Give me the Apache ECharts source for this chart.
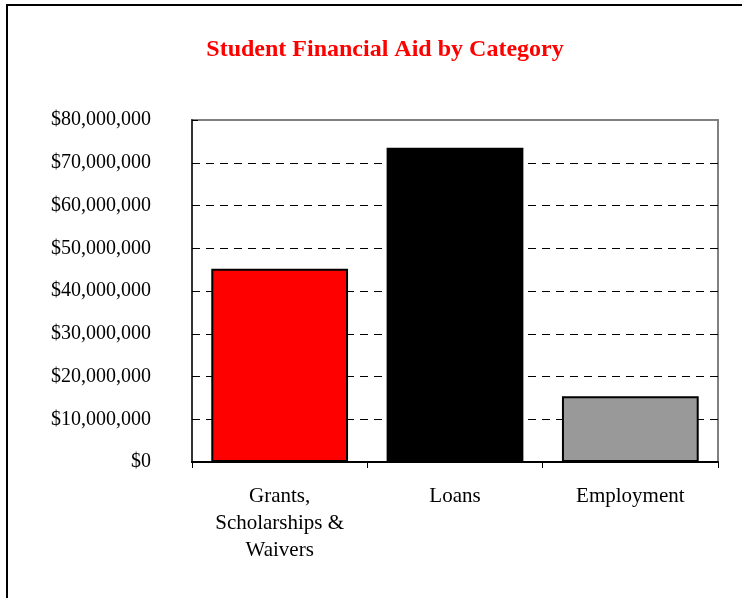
<!DOCTYPE html>
<html>
<head>
<meta charset="utf-8">
<script src="https://cdn.jsdelivr.net/npm/echarts@6/dist/echarts.min.js"></script>
<style>
html,body{margin:0;padding:0;background:#fff;}
#chart{width:742px;height:598px;}
</style>
</head>
<body>
<div id="chart"></div>
<script>
// Aid categories and dollar amounts
var categories = ['Grants,\nScholarships &\nWaivers', 'Loans', 'Employment'];
var amounts = [45200000, 73500000, 15400000];
var barColors = ['#ff0000', '#000000', '#999999'];
var yTicks = [0, 10000000, 20000000, 30000000, 40000000, 50000000, 60000000, 70000000, 80000000];

var serif = '"Liberation Serif", "Times New Roman", serif';

function money(v) {
  return '$' + Math.round(v).toString().replace(/\B(?=(\d{3})+(?!\d))/g, ',');
}

var chart = echarts.init(document.getElementById('chart'), null, {renderer: 'canvas'});
chart.setOption({
  backgroundColor: '#fff',
  animation: false,
  title: {
    text: 'Student Financial Aid by Category',
    left: 380,
    top: 33,
    textAlign: 'center',
    textStyle: {fontFamily: serif, fontSize: 24, fontWeight: 'bold', color: '#ff0000'}
  },
  graphic: [{
    type: 'rect',
    shape: {x: 7, y: 5, width: 800, height: 700},
    style: {fill: 'none', stroke: '#000', lineWidth: 2},
    silent: true,
    z: 100
  }],
  grid: {
    left: 192, right: 24, top: 120, bottom: 136,
    show: true, borderColor: '#808080', borderWidth: 2, backgroundColor: 'transparent'
  },
  xAxis: {
    type: 'category',
    data: categories,
    boundaryGap: true,
    axisLine: {lineStyle: {color: '#000', width: 2}},
    axisTick: {show: true, length: 6, lineStyle: {color: '#000', width: 1}},
    axisLabel: {
      fontFamily: serif, fontSize: 21, color: '#000', margin: 21, lineHeight: 27,
      interval: 0, align: 'center'
    }
  },
  yAxis: {
    type: 'value',
    min: yTicks[0],
    max: yTicks[yTicks.length - 1],
    interval: yTicks[1] - yTicks[0],
    axisLine: {show: true, lineStyle: {color: '#333', width: 2}},
    axisTick: {show: true, inside: true, length: 6, lineStyle: {color: '#000'}},
    axisLabel: {
      fontFamily: serif, fontSize: 20, color: '#000', margin: 41,
      padding: [4, 0, 0, 0],
      formatter: money
    },
    splitLine: {
      show: true, showMinLine: false, showMaxLine: false,
      lineStyle: {color: '#000', type: [8, 6], width: 1}
    }
  },
  series: [{
    type: 'bar',
    data: amounts.map(function (v, i) {
      return {value: v, itemStyle: {color: barColors[i]}};
    }),
    barCategoryGap: '22%',
    itemStyle: {borderColor: '#000', borderWidth: 2},
    z: 3
  }]
});
</script>
</body>
</html>
